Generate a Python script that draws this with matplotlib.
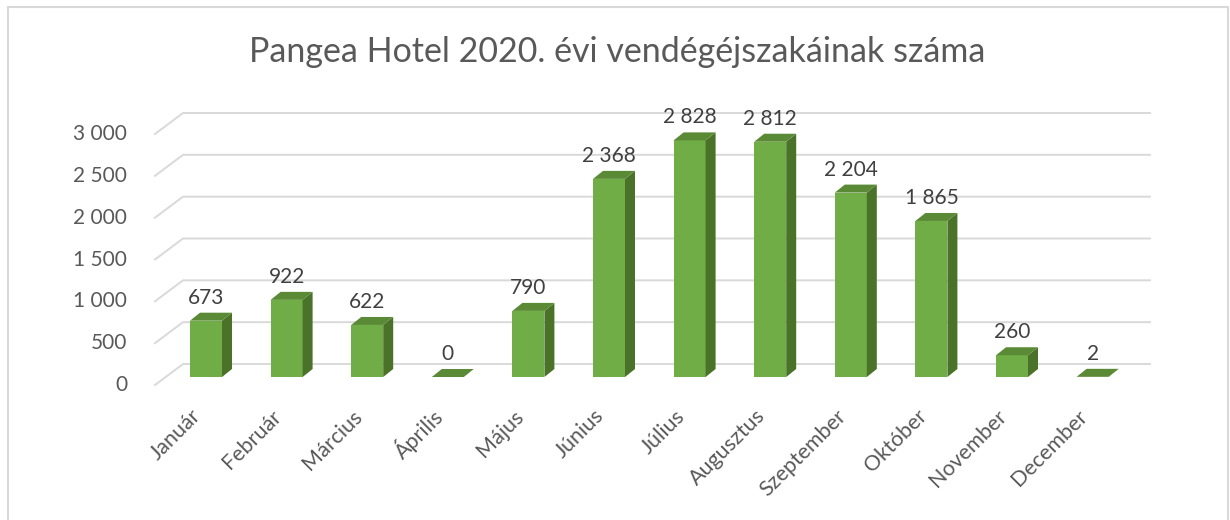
import matplotlib.pyplot as plt
from matplotlib.patches import Polygon, Rectangle

months = ['Január', 'Február', 'Március', 'Április', 'Május', 'Június',
          'Július', 'Augusztus', 'Szeptember', 'Október', 'November', 'December']
guests = [673, 922, 622, 0, 790, 2368, 2828, 2812, 2204, 1865, 260, 2]
y_ticks = [0, 500, 1000, 1500, 2000, 2500, 3000]
tick_labels = ['0', '500', '1 000', '1 500', '2 000', '2 500', '3 000']
title = 'Pangea Hotel 2020. évi vendégéjszakáinak száma'

plt.rcParams['font.family'] = ['Lato', 'DejaVu Sans']

# fake 3D: pixel scale of the chart
px_x = 80.6            # pixels per category
px_y = 3000 / 251      # value units per pixel
bar_w = 32 / px_x
bar_dx, bar_dy = 10 / px_x, 8 * px_y
wall_front_x, wall_back_x, wall_right_x = -0.633, -0.285, 11.712
wall_front_dy, wall_back_dy = -8 * px_y, 13 * px_y

c_front, c_side, c_top = '#70AD47', '#4A7229', '#5A8A35'
c_grid, c_text = '#D9D9D9', '#595959'

fig = plt.figure(figsize=(12.3, 5.2), dpi=100)
ax = fig.add_axes([0, 0, 1, 1])
ax.set_xlim(-206 / px_x, (1230 - 206) / px_x)
ax.set_ylim(-(520 - 377) * px_y, 377 * px_y)
ax.axis('off')

fig.patches.append(Rectangle((8 / 1230, -0.05), 1220 / 1230, 1.05 - 7 / 520,
                             transform=fig.transFigure, fill=False,
                             edgecolor=c_grid, lw=1.5))

# gridlines on side and back walls
for v, lab in zip(y_ticks, tick_labels):
    ax.plot([wall_front_x, wall_back_x, wall_right_x],
            [v + wall_front_dy, v + wall_back_dy, v + wall_back_dy],
            color=c_grid, lw=1.4, zorder=1)
    ax.text(-0.98, v + wall_front_dy, lab, ha='right', va='center',
            fontsize=15, color=c_text)

x = list(range(len(months)))
ax.bar(x, guests, width=bar_w, color=c_front, zorder=3)
for xi, v in zip(x, guests):
    r, l = xi + bar_w / 2, xi - bar_w / 2
    ax.add_patch(Polygon([(r, 0), (r + bar_dx, bar_dy), (r + bar_dx, v + bar_dy), (r, v)],
                         closed=True, color=c_side, lw=0, zorder=3))
    ax.add_patch(Polygon([(l, v), (r, v), (r + bar_dx, v + bar_dy), (l + bar_dx, v + bar_dy)],
                         closed=True, color=c_top, lw=0, zorder=3))
    ax.text(xi, v + bar_dy + 60, f'{v:,}'.replace(',', ' '), ha='center', va='bottom',
            fontsize=15, color='#404040', zorder=4)
    ax.text(xi - 0.10, -36 * px_y, months[xi], rotation=45, rotation_mode='anchor',
            ha='right', va='center', fontsize=15.5, color=c_text)

ax.text(617 / px_x - 206 / px_x, (377 - 52) * px_y, title, ha='center', va='center',
        fontsize=24.5, color=c_text)

fig.savefig('out.png', dpi=100)
